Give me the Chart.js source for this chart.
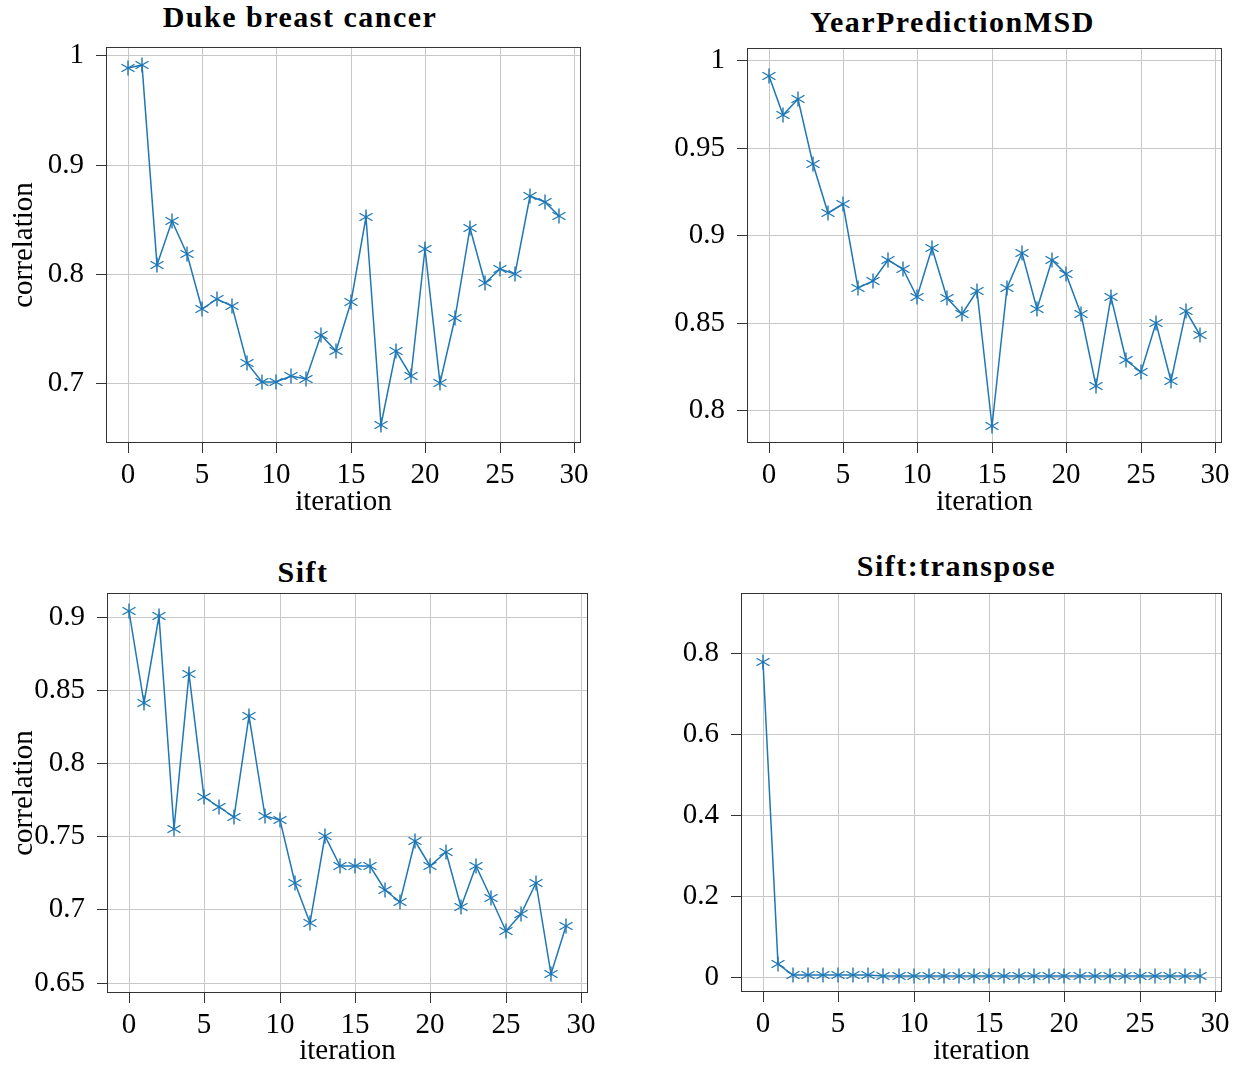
<!DOCTYPE html>
<html>
<head>
<meta charset="utf-8">
<script src="https://cdn.jsdelivr.net/npm/chart.js@4.4.1/dist/chart.umd.min.js"></script>
<style>
  html, body { margin: 0; padding: 0; background: #fff; }
  #figure { position: relative; width: 1243px; height: 1068px; overflow: hidden; }
  #figure canvas { position: absolute; }
  .panel-title {
    position: absolute;
    font: bold 30px 'Liberation Serif', 'Times New Roman', serif;
    line-height: 30px;
    letter-spacing: 1.5px;
    white-space: nowrap;
    transform: translateX(-50%);
    color: #000;
  }
</style>
</head>
<body>
<div id="figure"></div>
<script>
// iterations on the x axis, shared by all four panels
const iterations = [0, 1, 2, 3, 4, 5, 6, 7, 8, 9, 10, 11, 12, 13, 14, 15, 16, 17, 18, 19, 20, 21, 22, 23, 24, 25, 26, 27, 28, 29];
const xTicks = [0, 5, 10, 15, 20, 25, 30];
const xTickLabels = ['0', '5', '10', '15', '20', '25', '30'];

const dukeCorrelation = [0.988, 0.991, 0.808, 0.848, 0.818, 0.768, 0.777, 0.771, 0.719, 0.701,
  0.701, 0.707, 0.704, 0.744, 0.730, 0.774, 0.852, 0.662, 0.730, 0.707,
  0.823, 0.700, 0.760, 0.842, 0.792, 0.805, 0.800, 0.871, 0.866, 0.853];
const dukeTicks = [0.7, 0.8, 0.9, 1];
const dukeTickLabels = ['0.7', '0.8', '0.9', '1'];

const msdCorrelation = [0.991, 0.969, 0.978, 0.941, 0.913, 0.918, 0.870, 0.874, 0.886, 0.881,
  0.865, 0.893, 0.864, 0.855, 0.868, 0.791, 0.870, 0.890, 0.858, 0.886,
  0.878, 0.855, 0.814, 0.865, 0.829, 0.822, 0.850, 0.817, 0.857, 0.843];
const msdTicks = [0.8, 0.85, 0.9, 0.95, 1];
const msdTickLabels = ['0.8', '0.85', '0.9', '0.95', '1'];

const siftCorrelation = [0.904, 0.841, 0.901, 0.755, 0.861, 0.777, 0.770, 0.763, 0.832, 0.764,
  0.761, 0.718, 0.691, 0.750, 0.730, 0.730, 0.730, 0.713, 0.705, 0.747,
  0.730, 0.739, 0.702, 0.730, 0.708, 0.685, 0.697, 0.718, 0.656, 0.689];
const siftTicks = [0.65, 0.7, 0.75, 0.8, 0.85, 0.9];
const siftTickLabels = ['0.65', '0.7', '0.75', '0.8', '0.85', '0.9'];

const siftTransposeCorrelation = [0.778, 0.032, 0.005, 0.004, 0.004, 0.004, 0.004, 0.004, 0.003, 0.003,
  0.003, 0.003, 0.003, 0.003, 0.003, 0.003, 0.003, 0.003, 0.003, 0.003,
  0.003, 0.003, 0.003, 0.003, 0.003, 0.003, 0.003, 0.003, 0.003, 0.003];
const siftTransposeTicks = [0, 0.2, 0.4, 0.6, 0.8];
const siftTransposeTickLabels = ['0', '0.2', '0.4', '0.6', '0.8'];

const BLUE = '#1f77b4';
const GRID = '#c8c8c8';
const AXIS = '#333333';
const TEXT = '#000000';
const FONT = { family: "'Liberation Serif', 'Times New Roman', serif", size: 29, lineHeight: 1.2 };
const LINE_HEIGHT = FONT.size * FONT.lineHeight;
const X_MIN = -1.45;
const X_MAX = 30.45;

// box = canvas rectangle on the page, plot = wanted chart area, titleAt = title centre / top
const panels = [
  {
    title: 'Duke breast cancer', values: dukeCorrelation, yTicks: dukeTicks, yLabels: dukeTickLabels,
    yMin: 0.6455, yMax: 1.0075, yTitle: 'correlation',
    box: { left: 0, top: 0, width: 621, height: 534 },
    plot: { left: 106, top: 47, right: 581, bottom: 443 },
    titleAt: { x: 300, top: 2 }, xTitleMiddle: 502,
  },
  {
    title: 'YearPredictionMSD', values: msdCorrelation, yTicks: msdTicks, yLabels: msdTickLabels,
    yMin: 0.7813, yMax: 1.0071, yTitle: null,
    box: { left: 621, top: 0, width: 622, height: 534 },
    plot: { left: 747, top: 48, right: 1222, bottom: 443 },
    titleAt: { x: 952.5, top: 6.5 }, xTitleMiddle: 502,
  },
  {
    title: 'Sift', values: siftCorrelation, yTicks: siftTicks, yLabels: siftTickLabels,
    yMin: 0.6429, yMax: 0.9164, yTitle: 'correlation',
    box: { left: 0, top: 534, width: 621, height: 534 },
    plot: { left: 107, top: 593, right: 588, bottom: 993 },
    titleAt: { x: 303, top: 556.5 }, xTitleMiddle: 1051,
  },
  {
    title: 'Sift:transpose', values: siftTransposeCorrelation, yTicks: siftTransposeTicks, yLabels: siftTransposeTickLabels,
    yMin: -0.037, yMax: 0.948, yTitle: null,
    box: { left: 621, top: 534, width: 622, height: 534 },
    plot: { left: 741, top: 593, right: 1222, bottom: 992 },
    titleAt: { x: 956.5, top: 551 }, xTitleMiddle: 1051,
  },
];

// six-spoke asterisk used as the point marker
function asteriskMarker(radius, color) {
  const size = Math.ceil(radius * 2 + 3);
  const c = document.createElement('canvas');
  c.width = size;
  c.height = size;
  const g = c.getContext('2d');
  const m = size / 2;
  g.strokeStyle = color;
  g.lineWidth = 1.4;
  [90, 30, 150].forEach((deg) => {
    const r = deg * Math.PI / 180;
    const dx = Math.cos(r) * radius;
    const dy = Math.sin(r) * radius;
    g.beginPath();
    g.moveTo(m - dx, m - dy);
    g.lineTo(m + dx, m + dy);
    g.stroke();
  });
  return c;
}

const marker = asteriskMarker(7.5, BLUE);

// box around the plot area, like axes spines on all four sides
const framePlugin = {
  id: 'frame',
  afterDraw(chart) {
    const { ctx, chartArea: a } = chart;
    ctx.save();
    ctx.strokeStyle = AXIS;
    ctx.lineWidth = 1;
    ctx.strokeRect(Math.round(a.left) + 0.5, Math.round(a.top) + 0.5,
      Math.round(a.right - a.left) - 1, Math.round(a.bottom - a.top) - 1);
    ctx.restore();
  },
};

const figure = document.querySelector('#figure');

function makePanel(p) {
  const title = document.createElement('div');
  title.className = 'panel-title';
  title.textContent = p.title;
  title.style.left = `${p.titleAt.x}px`;
  title.style.top = `${p.titleAt.top}px`;
  figure.appendChild(title);

  const canvas = document.createElement('canvas');
  canvas.width = p.box.width;
  canvas.height = p.box.height;
  canvas.style.left = `${p.box.left}px`;
  canvas.style.top = `${p.box.top}px`;
  canvas.style.width = `${p.box.width}px`;
  canvas.style.height = `${p.box.height}px`;
  figure.appendChild(canvas);

  const boxBottom = p.box.top + p.box.height;

  return new Chart(canvas, {
    type: 'line',
    data: {
      datasets: [{
        data: iterations.map((x, i) => ({ x, y: p.values[i] })),
        borderColor: BLUE,
        backgroundColor: BLUE,
        borderWidth: 1.5,
        pointStyle: marker,
        pointRadius: 7,
        tension: 0,
        fill: false,
      }],
    },
    options: {
      responsive: false,
      animation: false,
      events: [],
      layout: {
        padding: {
          left: 0,
          top: p.plot.top - p.box.top,
          right: p.box.left + p.box.width - p.plot.right,
          bottom: 0,
        },
      },
      plugins: {
        legend: { display: false },
        tooltip: { enabled: false },
        title: { display: false },
      },
      scales: {
        x: {
          type: 'linear',
          min: X_MIN,
          max: X_MAX,
          alignToPixels: true,
          afterBuildTicks: (scale) => { scale.ticks = xTicks.map((value) => ({ value })); },
          afterFit: (scale) => { scale.height = boxBottom - p.plot.bottom; },
          ticks: {
            callback: (value, index) => xTickLabels[index],
            padding: 5,
            maxRotation: 0,
            autoSkip: false,
            font: FONT,
            color: TEXT,
          },
          grid: { color: GRID, tickColor: AXIS, tickLength: 10, lineWidth: 1, tickWidth: 1 },
          border: { display: false },
          title: {
            display: true,
            text: 'iteration',
            font: FONT,
            color: TEXT,
            padding: { top: 0, bottom: boxBottom - LINE_HEIGHT / 2 - p.xTitleMiddle },
          },
        },
        y: {
          type: 'linear',
          min: p.yMin,
          max: p.yMax,
          alignToPixels: true,
          afterBuildTicks: (scale) => { scale.ticks = p.yTicks.map((value) => ({ value })); },
          afterFit: (scale) => { scale.width = p.plot.left - p.box.left; },
          ticks: {
            callback: (value, index) => p.yLabels[index],
            padding: 12,
            autoSkip: false,
            font: FONT,
            color: TEXT,
          },
          grid: { color: GRID, tickColor: AXIS, tickLength: 10, lineWidth: 1, tickWidth: 1 },
          border: { display: false },
          title: {
            display: Boolean(p.yTitle),
            text: p.yTitle || '',
            font: FONT,
            color: TEXT,
            padding: { top: 24 - LINE_HEIGHT / 2, bottom: 0 },
          },
        },
      },
    },
    plugins: [framePlugin],
  });
}

panels.forEach(makePanel);
</script>
</body>
</html>
